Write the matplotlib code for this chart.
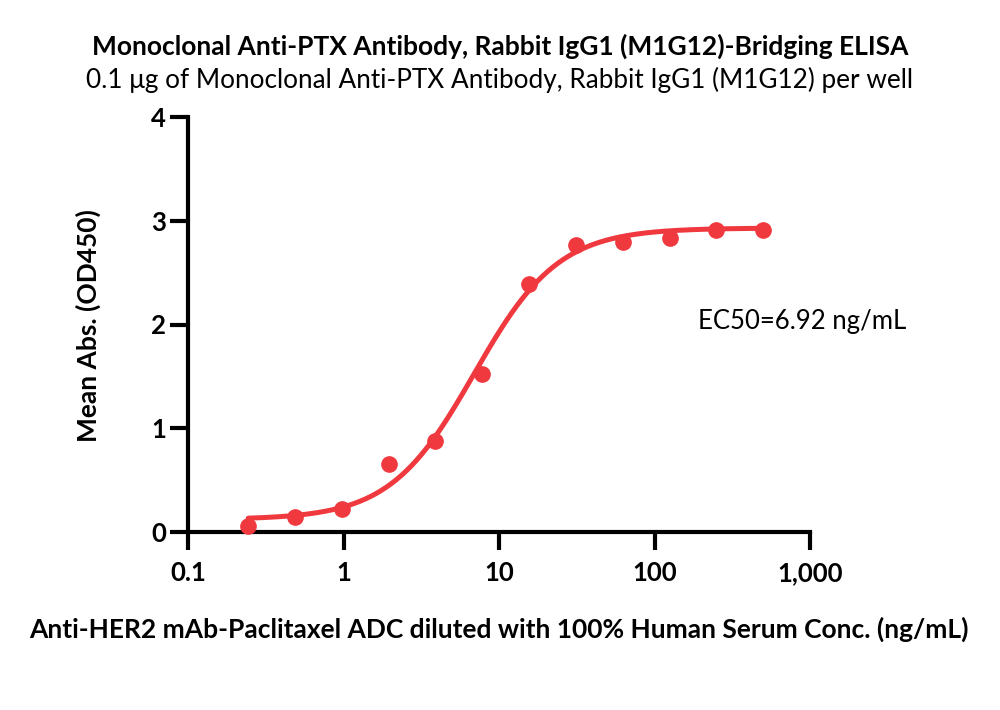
import numpy as np
import matplotlib
matplotlib.use("Agg")
import matplotlib.pyplot as plt
from matplotlib.ticker import FixedLocator, NullLocator

# data
conc = [0.244, 0.488, 0.977, 1.95, 3.9, 7.8, 15.6, 31.25, 62.5, 125, 250, 500]
od450 = [0.06, 0.145, 0.22, 0.655, 0.88, 1.52, 2.39, 2.77, 2.80, 2.83, 2.91, 2.91]
x_ticks = [0.1, 1, 10, 100, 1000]
x_tick_labels = ["0.1", "1", "10", "100", "1,000"]
y_ticks = [0, 1, 2, 3, 4]

# fitted 4PL model parameters
fit_bottom = 0.12
fit_top = 2.93
fit_ec50 = 6.92
fit_hill = 1.6

RED = "#F0393F"
FONT = ["Lato", "DejaVu Sans"]
plt.rcParams['font.family'] = FONT

fig = plt.figure(figsize=(10, 7.1), dpi=100)
ax = fig.add_axes([0.188, 1 - 532/710, 0.810 - 0.188, (532 - 117)/710])

xs = np.logspace(np.log10(conc[0]), np.log10(conc[-1]), 300)
ys = fit_bottom + (fit_top - fit_bottom) / (1 + (fit_ec50 / xs) ** fit_hill)
ax.plot(xs, ys, color=RED, lw=3.6, solid_capstyle='round', zorder=2)
ax.plot(conc, od450, 'o', color=RED, ms=11, zorder=3, clip_on=False)

ax.set_xscale('log')
ax.set_xlim(0.1, 1000)
ax.set_ylim(0, 4)
ax.xaxis.set_major_locator(FixedLocator(x_ticks))
ax.xaxis.set_minor_locator(NullLocator())
ax.set_xticklabels(x_tick_labels)
ax.set_yticks(y_ticks)

for s in ['top', 'right']:
    ax.spines[s].set_visible(False)
for s in ['left', 'bottom']:
    ax.spines[s].set_linewidth(3)
    ax.spines[s].set_capstyle('projecting')
ax.tick_params(axis='both', length=13, width=3, labelsize=18.5)
ax.tick_params(axis='x', pad=8)
ax.tick_params(axis='y', pad=3)
for lab in ax.get_xticklabels() + ax.get_yticklabels():
    lab.set_fontweight('bold')

fig.text(0.088, 1 - 326/710, "Mean Abs. (OD450)", rotation=90,
         ha='center', va='center', fontsize=19, fontweight='bold')
fig.text(0.499, 1 - 629/710, "Anti-HER2 mAb-Paclitaxel ADC diluted with 100% Human Serum Conc. (ng/mL)",
         ha='center', va='center', fontsize=19, fontweight='bold')
fig.text(0.500, 1 - 46/710, "Monoclonal Anti-PTX Antibody, Rabbit IgG1 (M1G12)-Bridging ELISA",
         ha='center', va='center', fontsize=19, fontweight='bold')
fig.text(0.500, 1 - 80/710, "0.1 μg of Monoclonal Anti-PTX Antibody, Rabbit IgG1 (M1G12) per well",
         ha='center', va='center', fontsize=18.8)
fig.text(0.802, 1 - 321/710, "EC50=6.92 ng/mL", ha='center', va='center', fontsize=18.5)

fig.savefig("out.png", dpi=100)
